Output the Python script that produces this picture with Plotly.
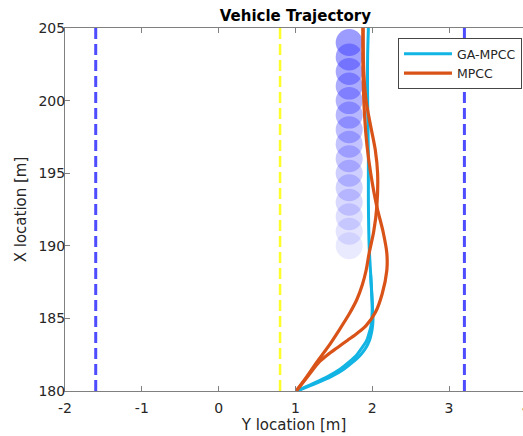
import plotly.graph_objects as go

# ---- data ----
lane_bounds = [-1.6, 3.2]
center_line = [0.8]
x_span = [180, 205]

obs_y = 1.7
obs_x = [190, 191, 192, 193, 194, 195, 196, 197, 198, 199, 200, 201, 202, 203, 204]

ga1_x = [180, 180.5, 181, 181.5, 182, 182.5, 183, 183.5, 184, 184.5, 185, 186, 188, 190, 193, 196, 200, 203, 205]
ga1_y = [1.01, 1.22, 1.42, 1.58, 1.70, 1.80, 1.87, 1.93, 1.96, 1.985, 1.995, 2.0, 1.98, 1.96, 1.95, 1.95, 1.94, 1.94, 1.95]
ga2_x = [180, 180.5, 181, 181.5, 182, 182.5, 183, 183.5, 184, 184.5, 185, 186, 188]
ga2_y = [1.02, 1.26, 1.47, 1.63, 1.75, 1.85, 1.92, 1.965, 1.99, 2.005, 2.01, 2.0, 1.98]

mp1_x = [180, 181, 182, 183, 184.2, 185.3, 186.3, 187.3, 188.3, 189.5, 191, 192.7, 195, 196.6, 198.5, 200, 202, 205]
mp1_y = [1.01, 1.15, 1.28, 1.42, 1.57, 1.70, 1.80, 1.87, 1.92, 1.96, 2.02, 2.06, 2.07, 2.04, 1.97, 1.92, 1.89, 1.88]
mp2_x = [180, 181, 182, 182.5, 183, 183.5, 184, 184.5, 185.4, 186.7, 188.3, 189.5, 191, 192.7, 195, 197, 199, 202, 205]
mp2_y = [1.01, 1.16, 1.31, 1.42, 1.55, 1.68, 1.81, 1.92, 2.04, 2.13, 2.19, 2.19, 2.14, 2.06, 1.98, 1.93, 1.90, 1.88, 1.88]

x_ticks = [-2, -1, 0, 1, 2, 3]
x_ticktext = ["-2", "-1", "0", "1", "2", "3"]
y_ticks = [180, 185, 190, 195, 200, 205]

# ---- figure ----
fig = go.Figure()

for b in lane_bounds:
    fig.add_trace(go.Scatter(x=[b, b], y=x_span, mode="lines", showlegend=False,
                             line=dict(color="rgb(77,77,255)", width=3, dash="11px,5px"),
                             hoverinfo="skip"))
for c in center_line:
    fig.add_trace(go.Scatter(x=[c, c], y=x_span, mode="lines", showlegend=False,
                             line=dict(color="rgb(255,255,40)", width=2.5, dash="11px,5px"),
                             hoverinfo="skip"))

n = len(obs_x)
for i, ox in enumerate(obs_x):
    a = 0.11 + 0.40 * i / (n - 1)
    fig.add_trace(go.Scatter(x=[obs_y], y=[ox], mode="markers", showlegend=False,
                             marker=dict(size=27, color="rgb(60,60,255)", opacity=a,
                                         line=dict(width=0)),
                             hoverinfo="skip"))

cyan = "rgb(18,180,228)"
orange = "rgb(217,83,25)"

fig.add_trace(go.Scatter(x=ga2_y, y=ga2_x, mode="lines", showlegend=False,
                         line=dict(color=cyan, width=3, shape="spline", smoothing=0.8)))
fig.add_trace(go.Scatter(x=ga1_y, y=ga1_x, mode="lines", name="GA-MPCC",
                         line=dict(color=cyan, width=3, shape="spline", smoothing=0.8)))
fig.add_trace(go.Scatter(x=mp1_y, y=mp1_x, mode="lines", name="MPCC",
                         line=dict(color=orange, width=3.2, shape="spline", smoothing=0.8)))
fig.add_trace(go.Scatter(x=mp2_y, y=mp2_x, mode="lines", showlegend=False,
                         line=dict(color=orange, width=3.2, shape="spline", smoothing=0.8)))

tick_font = dict(family="DejaVu Sans", size=14, color="rgb(38,38,38)")
axis_col = "rgb(128,128,128)"

fig.update_layout(
    width=523, height=436,
    margin=dict(l=65, r=0, t=28, b=45),
    plot_bgcolor="white", paper_bgcolor="white",
    font=dict(family="DejaVu Sans", size=13, color="rgb(38,38,38)"),
    title=dict(text="<b>Vehicle Trajectory</b>", x=0.503, xref="paper", xanchor="center",
               y=0.963, yanchor="middle",
               font=dict(family="DejaVu Sans", size=15, color="black")),
    xaxis=dict(range=[-2, 3.963], tickvals=x_ticks, ticktext=x_ticktext,
               ticks="inside", ticklen=5, ticklabelstandoff=4,
               tickcolor=axis_col, showline=True, linecolor=axis_col, linewidth=1,
               mirror="ticks", showgrid=False, zeroline=False, tickfont=tick_font,
               title=dict(text="Y location [m]", font=dict(size=15), standoff=4)),
    yaxis=dict(range=[180, 205], tickvals=y_ticks, ticks="inside", ticklen=5,
               ticklabelstandoff=-4,
               tickcolor=axis_col, showline=True, linecolor=axis_col, linewidth=1,
               showgrid=False, zeroline=False, tickfont=tick_font,
               title=dict(text="X location [m]", font=dict(size=15), standoff=8)),
    legend=dict(x=0.727, y=0.972, xanchor="left", yanchor="top",
                bgcolor="white", bordercolor="rgb(70,70,70)", borderwidth=1,
                font=dict(size=12.5), tracegroupgap=0, itemwidth=48),
    annotations=[dict(text="4", xref="paper", yref="paper", x=1.0066, y=0,
                      xanchor="center", yanchor="top", yshift=-7, showarrow=False,
                      font=tick_font)],
)

fig.write_html("out.html", config={"displayModeBar": False},
               post_script="document.body.style.margin='0px';document.body.style.overflow='hidden';")
